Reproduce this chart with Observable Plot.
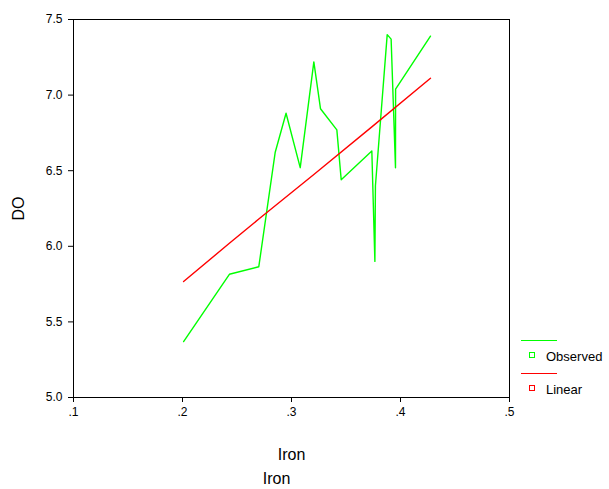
<!DOCTYPE html>
<html><head><meta charset="utf-8">
<script src="https://cdn.jsdelivr.net/npm/d3@7"></script>
<script src="https://cdn.jsdelivr.net/npm/@observablehq/plot@0.6"></script>
<style>
body{margin:0;background:#fff;font-family:"Liberation Sans",Arial,sans-serif;}
#wrap{position:relative;width:609px;height:489px;}
.leg{position:absolute;font-size:13px;line-height:15px;color:#000;}
.sw{position:absolute;height:1px;}
.sq{position:absolute;width:4px;height:4px;border:1px solid;}
#cap{position:absolute;top:470px;left:0;width:553px;text-align:center;font-size:16px;line-height:18px;}
</style></head><body>
<div id="wrap"></div>
<script>
// Observed series (Iron, DO), in drawing order
const ironObs = [0.201,0.243,0.270,0.285,0.295,0.308,0.3205,0.3266,0.3416,0.3456,0.3737,0.3765,0.3770,0.3878,0.3914,0.3954,0.3955,0.4275];
const doObs   = [5.37, 5.815,5.865,6.62, 6.88, 6.52, 7.22,  6.91,  6.77,  6.44,  6.63,  5.90,  6.40,  7.40,  7.37,  6.52,  7.04,  7.39];
// Linear fit line
const ironLin = [0.201,0.243,0.270,0.3205,0.3737,0.4275];
const doLin   = [5.767,6.02,6.18,6.475,6.79,7.112];
const xTicks = [0.1,0.2,0.3,0.4,0.5];
const yTicks = [5.0,5.5,6.0,6.5,7.0,7.5];
const seriesNames = ["Observed","Linear"];
const seriesColors = ["#00ff00","#ff0000"];

const obs = ironObs.map((x,i)=>({x, y: doObs[i]}));
const lin = ironLin.map((x,i)=>({x, y: doLin[i]}));

const chart = Plot.plot({
  width: 609, height: 468,
  marginLeft: 73, marginRight: 100, marginTop: 19, marginBottom: 71,
  style: {fontFamily: '"Liberation Sans", Arial, sans-serif', fontSize: "12px", color: "#000", background: "#fff"},
  x: {domain: [0.1, 0.5]},
  y: {domain: [5.0, 7.5]},
  marks: [
    Plot.frame({stroke: "#000", strokeWidth: 1}),
    Plot.axisX({ticks: xTicks, tickFormat: d => d3.format(".1f")(d).replace(/^0/, ""), tickSize: 5, tickPadding: 5,
      label: "Iron", labelAnchor: "center", labelArrow: "none", labelOffset: 62}),
    Plot.axisY({ticks: yTicks, tickFormat: d3.format(".1f"), tickSize: 5, tickPadding: 6,
      label: "DO", labelAnchor: "center", labelArrow: "none", labelOffset: 61}),
    Plot.line(obs, {x: "x", y: "y", stroke: seriesColors[0], strokeWidth: 1.4}),
    Plot.line(lin, {x: "x", y: "y", stroke: seriesColors[1], strokeWidth: 1.4})
  ]
});
chart.querySelectorAll('g[aria-label="x-axis label"] text, g[aria-label="y-axis label"] text').forEach(t=>t.style.fontSize="16px");
const wrap = document.getElementById("wrap");
wrap.appendChild(chart);
chart.style.position="absolute"; chart.style.left="0"; chart.style.top="0";

// legend (HTML)
seriesNames.forEach((name,i)=>{
  const top = 340 + i*33;
  const sw = document.createElement("div"); sw.className="sw";
  sw.style.left="521px"; sw.style.width="36px"; sw.style.top=top+"px"; sw.style.background=seriesColors[i];
  wrap.appendChild(sw);
  const sq = document.createElement("div"); sq.className="sq";
  sq.style.left="529px"; sq.style.top=(top+12)+"px"; sq.style.borderColor=seriesColors[i];
  wrap.appendChild(sq);
  const t = document.createElement("div"); t.className="leg"; t.textContent=name;
  t.style.left="546px"; t.style.top=(top+9)+"px";
  wrap.appendChild(t);
});
const cap = document.createElement("div"); cap.id="cap"; cap.textContent="Iron";
wrap.appendChild(cap);
</script>
</body></html>
